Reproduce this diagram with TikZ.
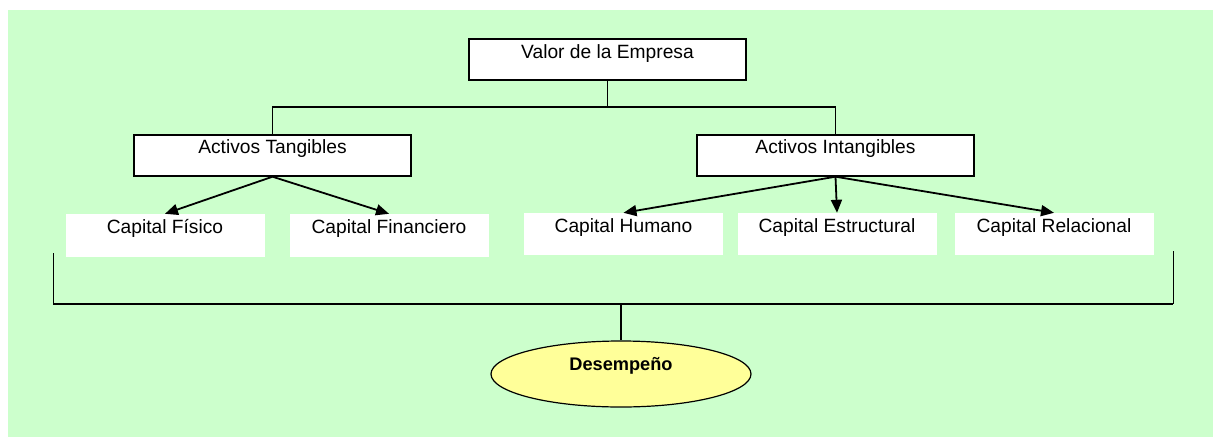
\documentclass[tikz,border=0pt]{standalone}
\usepackage{fontspec}
\setmainfont{Liberation Sans}
\usetikzlibrary{arrows.meta,shapes.geometric}
\definecolor{bggreen}{RGB}{204,255,204}
\definecolor{ellyellow}{RGB}{255,255,153}
\tikzset{
  topbox/.style={draw=black, line width=1.4pt, fill=white, inner sep=0pt,
     minimum width=277pt, text height=19pt, text depth=22pt,
     font=\fontsize{19.2}{22}\selectfont},
  capbox/.style={fill=white, inner sep=0pt, minimum width=199pt,
     font=\fontsize{19.2}{22}\selectfont},
  conn/.style={line width=1.2pt},
  arr/.style={line width=1.8pt, -{Triangle[length=13pt,width=11pt]}},
}
\begin{document}
\begin{tikzpicture}[x=1pt,y=-1pt]
\useasboundingbox (0,0) rectangle (1218,437);
\fill[bggreen] (8,10) rectangle (1213,437);

\node[topbox] (valor) at (607.5,59.5) {Valor de la Empresa};
\node[topbox, text height=18pt, text depth=23pt] (tang) at (272.5,155.5) {Activos Tangibles};
\node[topbox, text height=18pt, text depth=23pt] (intang) at (835.5,155.5) {Activos Intangibles};

\node[capbox, text height=19pt, text depth=24pt] (fis) at (165,235.5) {Capital Físico};
\node[capbox, text height=19pt, text depth=24pt] (fin) at (389,235.5) {Capital Financiero};
\node[capbox, text height=19.5pt, text depth=22.5pt] (hum) at (623.5,234) {Capital Humano};
\node[capbox, text height=19.5pt, text depth=22.5pt] (est) at (837,234) {Capital Estructural};
\node[capbox, text height=19.5pt, text depth=22.5pt] (rel) at (1054,234) {Capital Relacional};

\node[ellipse, draw=black, line width=1.2pt, fill=ellyellow, inner sep=0pt,
      minimum width=260pt, minimum height=66pt, text height=10pt, text depth=18pt,
      font=\fontsize{18.2}{20}\bfseries] (des) at (621,374) {Desempeño};

\coordinate (hub) at (607.5,107);
\draw[conn] (valor.south) -- (hub);
\draw[conn] (tang.north) |- (hub) -| (intang.north);

\draw[arr] (tang.south) -- (fis.north);
\draw[arr] (tang.south) -- (fin.north);
\draw[arr] (intang.south) -- (hum.north);
\draw[arr] (intang.south) -- (est.north);
\draw[arr] (intang.south) -- (rel.north);

\coordinate (bl) at (53,253);
\coordinate (br) at (1173,251);
\coordinate (bm) at (621,304);
\draw[line width=1pt] (bl) -- (bl |- bm);
\draw[line width=1pt] (br) -- (br |- bm);
\draw[line width=1.6pt] (bl |- bm) -- (br |- bm);
\draw[line width=1.2pt] (bm) -- (des.north);
\end{tikzpicture}
\end{document}
